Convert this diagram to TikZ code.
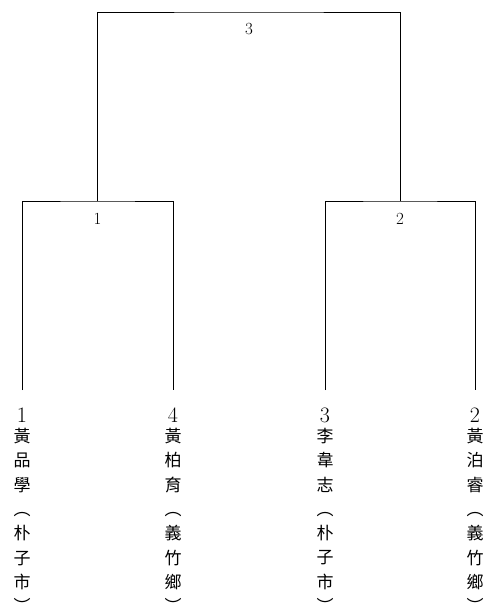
\documentclass[tikz,border=0pt]{standalone}
\usepackage{fontspec}
\newfontfamily\cjk{Noto Sans CJK TC}
\usepackage{tikz}

\begin{document}
\begin{tikzpicture}[
  x=1pt, y=-1pt,
  seed/.style={inner sep=0pt, font=\fontsize{22}{22}\selectfont},
  team/.style={anchor=north, align=center, inner sep=0pt,
               font=\cjk\fontsize{17}{24.3}\selectfont},
  game/.style={inner sep=0pt, font=\fontsize{17}{17}\selectfont},
  br/.style={draw, line width=0.7pt}
]
  \useasboundingbox (0,0) rectangle (492,610);
  % leaf tops
  \coordinate (t1) at ( 22,390);
  \coordinate (t4) at (173,390);
  \coordinate (t3) at (325,390);
  \coordinate (t2) at (475,390);
  % match bars
  \coordinate (m1) at ( 97.5,201);
  \coordinate (m2) at (400  ,201);
  \coordinate (m3) at (249  , 12);
  \draw[br] (t1) |- (m1) -| (t4);
  \draw[br] (t3) |- (m2) -| (t2);
  \draw[br] (m1) |- (m3) -| (m2);
  \node[game] (g1) at ( 97.5,219) {1};
  \node[game] (g2) at (400  ,219) {2};
  \node[game] (g3) at (249  , 29) {3};
  % seeds and teams
  \node[seed] (s1) at ( 22,415) {1};
  \node[seed] (s4) at (173,415) {4};
  \node[seed] (s3) at (325,415) {3};
  \node[seed] (s2) at (475,415) {2};
  \node[team] (n1) at ( 22,428) {黃\\品\\學\\︵\\朴\\子\\市\\︶};
  \node[team] (n4) at (173,428) {黃\\柏\\育\\︵\\義\\竹\\鄉\\︶};
  \node[team] (n3) at (325,428) {李\\韋\\志\\︵\\朴\\子\\市\\︶};
  \node[team] (n2) at (475,428) {黃\\泊\\睿\\︵\\義\\竹\\鄉\\︶};
\end{tikzpicture}
\end{document}
